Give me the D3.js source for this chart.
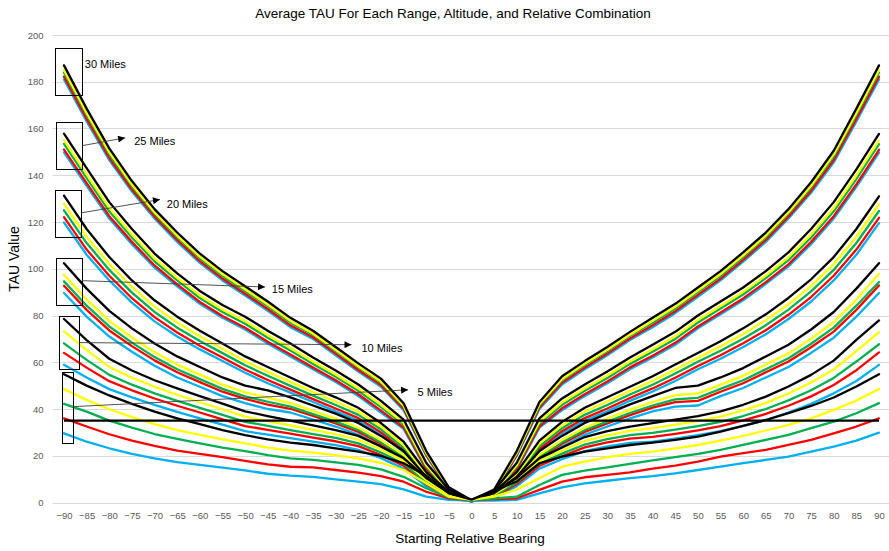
<!DOCTYPE html>
<html><head><meta charset="utf-8">
<script src="https://cdn.jsdelivr.net/npm/d3@7"></script>
<style>
body{margin:0;background:#fff}
svg{display:block}
text{font-family:"Liberation Sans",Arial,sans-serif}
</style>
</head><body>
<svg id="c" width="889" height="551"></svg>
<script>
const bearings = [-90,-85,-80,-75,-70,-65,-60,-55,-50,-45,-40,-35,-30,-25,-20,-15,-10,-5,0,5,10,15,20,25,30,35,40,45,50,55,60,65,70,75,80,85,90];
const yTickValues = [0,20,40,60,80,100,120,140,160,180,200];
const threshold = 35;

// 30 miles
const k30 = [187,168.5,151.5,137.5,125.5,115.5,106.5,99,92.5,86,79,73.5,66.5,59.5,53,42.5,22,6.5,1,5.5,22,43,54,60.5,66.5,73,79,85,92,99,107,115.5,125.5,137,150.5,168.5,187];
const y30 = [185,166.7,149.9,136,124.2,114.2,105.2,97.7,91.2,84.7,77.7,72.3,65.3,58.3,51.8,41.5,21.3,6,0.8,5,21.3,42,52.8,59.3,65.3,71.8,77.7,83.7,90.7,97.7,105.7,114.2,124.2,135.5,148.9,166.7,185];
const g30 = [184,165.8,149,135.3,123.5,113.5,104.5,97,90.5,84,77,71.8,64.8,57.8,51.3,41,21,5.8,0.8,4.8,21,41.5,52.3,58.8,64.8,71.3,77,83,90,97,105,113.5,123.5,134.8,148,165.8,184];
const r30 = [182.2,164.1,147.5,133.9,122.3,112.3,103.3,95.8,89.3,82.8,75.8,70.7,63.7,56.7,50.2,40.1,20.4,5.3,0.6,4.3,20.4,40.6,51.2,57.7,63.7,70.2,75.8,81.8,88.8,95.8,103.8,112.3,122.3,133.4,146.5,164.1,182.2];
const b30 = [181,163,146.5,133,121.5,111.5,102.5,95,88.5,82,75,70,63,56,49.5,39.5,20,5,0.5,4,20,40,50.5,57,63,69.5,75,81,88,95,103,111.5,121.5,132.5,145.5,163,181];
// 25 miles
const k25 = [157.8,143,128.5,117,106.5,98,90.5,84.5,79.5,73.5,68,62,56.5,50.5,43.5,35.5,17,5.5,1,5,17,36,44.5,50.5,56,62,67.5,73,80,86,92,99,107,117,128.5,142.5,157.7];
const y25 = [155,140.4,126,114.7,104.4,96.1,88.6,82.6,77.6,71.6,66.1,60.3,54.8,48.8,41.8,34.1,16,4.8,0.8,4.3,16,34.6,42.8,48.8,54.3,60.3,65.6,71.1,78.1,84.1,90.1,97.1,104.9,114.7,126,139.9,154.9];
const g25 = [153.4,138.9,124.6,113.4,103.2,95,87.5,81.5,76.5,70.5,65,59.3,53.8,47.8,40.8,33.3,15.4,4.4,0.7,3.9,15.4,33.8,41.8,47.8,53.3,59.3,64.5,70,77,83,89,96,103.7,113.4,124.6,138.4,153.3];
const r25 = [151,136.6,122.5,111.5,101.4,93.3,85.8,79.8,74.8,68.8,63.3,57.8,52.3,46.3,39.3,32.1,14.5,3.8,0.6,3.3,14.5,32.6,40.3,46.3,51.8,57.8,62.8,68.3,75.3,81.3,87.3,94.3,101.9,111.5,122.5,136.1,150.9];
const b25 = [149.8,135.5,121.5,110.5,100.5,92.5,85,79,74,68,62.5,57,51.5,45.5,38.5,31.5,14,3.5,0.5,3,14,32,39.5,45.5,51,57,62,67.5,74.5,80.5,86.5,93.5,101,110.5,121.5,135,149.7];
// 20 miles
const k20 = [131.3,117,105,95,86.5,79.5,73.5,68,62.5,58,53.5,49,45,40.5,34,26,13,4.5,1,4.5,13,26.5,34.5,40.5,45,49.5,54,59,64,69,74.5,80.5,87.5,95.5,105,117,131];
const y20 = [127.8,113.7,102,92.2,83.8,77,71.1,65.8,60.4,55.9,51.6,47.2,43.2,38.9,32.5,24.7,12,3.9,0.9,3.9,12,25.2,33,38.9,43.2,47.7,52.1,56.9,61.9,66.8,72.1,78,84.8,92.7,102,113.7,127.6];
const g20 = [125,111,99.5,89.8,81.5,74.8,69.1,63.9,58.7,54.2,49.9,45.7,41.7,37.5,31.3,23.5,11.1,3.4,0.7,3.4,11.1,24,31.8,37.5,41.7,46.2,50.4,55.2,60.2,64.9,70.1,75.8,82.5,90.3,99.5,111,124.7];
const r20 = [122.1,108.2,97,87.4,79.3,72.7,67.1,62,56.9,52.4,48.3,44.2,40.2,36.1,30,22.4,10.2,2.9,0.6,2.9,10.2,22.9,30.5,36.1,40.2,44.7,48.8,53.4,58.4,63,68.1,73.7,80.3,87.9,97,108.2,121.8];
const b20 = [119.8,106,95,85.5,77.5,71,65.5,60.5,55.5,51,47,43,39,35,29,21.5,9.5,2.5,0.5,2.5,9.5,22,29.5,35,39,43.5,47.5,52,57,61.5,66.5,72,78.5,86,95,106,119.5];
// 15 miles
const k15 = [102.4,91.5,82,74.5,68,62.5,58,53.5,50,48,45,41.5,38,34,28.5,22,11,4,1,4,11,22,28.5,34,38,42,45.5,49,50,53.5,57.5,62.5,67.5,74,81.5,91.5,102.4];
const y15 = [97.4,86.8,77.7,70.6,64.3,59,54.7,50.4,47.1,44.9,42.5,39.2,35.9,32,26.7,20.4,9.8,3.2,0.8,3.2,9.8,20.4,26.7,32,35.9,39.7,43,45.9,46.7,50.4,54.2,59,63.8,70.1,77.2,86.8,97.9];
const g15 = [94.6,84.2,75.3,68.4,62.2,57,52.8,48.6,45.4,43.1,41,37.8,34.6,31,25.8,19.6,9.2,2.8,0.7,2.8,9.2,19.6,25.8,31,34.6,38.3,41.5,44.1,44.8,48.6,52.3,57,61.7,67.9,74.8,84.2,94.3];
const r15 = [92.7,82.4,73.6,66.9,60.8,55.7,51.5,47.4,44.3,41.9,40.1,37,33.8,30.2,25.1,19,8.7,2.5,0.6,2.5,8.7,19,25.1,30.2,33.8,37.4,40.6,42.9,43.5,47.4,51,55.7,60.3,66.4,73.1,82.4,92.9];
const b15 = [89.6,79.5,71,64.5,58.5,53.5,49.5,45.5,42.5,40,38.5,35.5,32.5,29,24,18,8,2,0.5,2,8,18,24,29,32.5,36,39,41,41.5,45.5,49,53.5,58,64,70.5,79.5,89.6];
// 10 miles
const k10 = [78.5,69.5,61.5,56.5,52.3,48.8,45.5,42.3,39,37,35,33,31,28.5,24,19,10.5,4,1,4,10.5,19,23.5,28,30.5,32.5,34,35.5,37,39,41.8,45.3,49.6,54.6,60.7,69.6,77.9];
const y10 = [73.2,65.2,58,53.4,49.5,46.1,42.9,39.9,36.7,34.8,33,31.1,29.2,26.9,22.7,17.8,9.6,3.5,0.9,3.5,9.6,17.8,22.2,26.4,28.7,30.6,31.8,33.3,34.8,36.7,39.4,42.6,46.6,51.3,56.9,64.8,72.9];
const g10 = [68.1,61,54.6,50.4,46.7,43.5,40.5,37.5,34.5,32.8,31,29.3,27.6,25.3,21.4,16.6,8.6,2.9,0.7,2.9,8.6,16.6,20.9,24.8,27.1,28.8,29.8,31.2,32.7,34.5,37,40,43.7,48,53.3,60.3,67.7];
const r10 = [64,57.7,51.9,48,44.5,41.4,38.5,35.6,32.7,31.1,29.5,27.8,26.2,24.1,20.3,15.7,7.9,2.5,0.6,2.5,7.9,15.7,19.8,23.6,25.7,27.3,28.1,29.4,30.9,32.7,35.1,37.9,41.4,45.4,50.3,56.6,64.2];
const b10 = [58.9,53.5,48.5,45,41.8,38.8,36,33.3,30.5,29,27.5,26,24.5,22.5,19,14.5,7,2,0.5,2,7,14.5,18.5,22,24,25.5,26,27.3,28.8,30.5,32.8,35.3,38.5,42.2,46.7,52,58.9];
// 5 miles
const k5 = [54.9,50,45.8,42.2,38.9,36,33.5,31,28.8,27,25.6,24.6,23.2,21.8,19.9,16.8,11.5,4,1.2,5,9,16.8,19.6,21.8,23.2,24.6,25.6,26.8,28.2,30.3,32.8,35.3,38.2,41.3,44.9,49.6,54.9];
const y5 = [48.5,43.9,39.9,36.5,33.5,31,28.9,27,25.3,23.5,22.2,21.3,20.3,18.9,17,13.9,8.2,2.5,1.1,2.5,5.5,10.4,15.3,17.5,19.4,20.8,21.8,23.2,24.6,26.5,28.5,30.8,33.2,36,39.6,43.6,48.5];
const g5 = [42.2,38.9,35,32,29.3,27.2,25.3,23.5,22,20.3,18.9,18.2,17.2,16.1,14.2,11,6.1,2.2,1,1.8,2.5,7.5,11.8,13.6,15,16.5,18,19.4,20.8,22.5,24.6,26.8,28.9,31.8,34.6,38.2,42.5];
const r5 = [36,32.5,29.2,26.5,24.2,22.2,20.8,19.4,17.8,16.3,15.3,15,13.9,12.8,11.3,8.9,4.6,1.8,1,1.5,1.8,5.4,8.9,10.8,11.8,12.9,14.5,15.8,17.5,19.6,21.1,22.5,24.6,26.8,29.6,32.5,36];
const b5 = [29.6,26,23.2,20.8,18.9,17.3,16.1,14.9,13.7,12.3,11.5,11,9.9,8.9,7.9,5.6,2.5,1.1,0.8,0.8,1.1,3.9,6.5,8.2,9.3,10.4,11.3,12.5,13.9,15.3,16.8,18.2,19.6,21.8,23.9,26.5,29.9];

// annotations (data units)
const annotLabels = ['30 Miles','25 Miles','20 Miles','15 Miles','10 Miles','5 Miles'];
const annotBoxBearing = [[-92,-86.1],[-91.7,-85.9],[-92,-86.2],[-91.8,-86.1],[-91,-86.6],[-90.4,-88]];
const annotBoxValue = [[194.5,174.5],[162.7,142.4],[133.5,113.4],[104.8,84.9],[80,57.2],[56,25.8]];
const annotArrowFrom = [null,152.7,123.9,94.9,68.4,41];
const annotArrowTo = [null,[-76.5,156],[-68.8,129.6],[-45.6,92.2],[-26.5,67.5],[-14,48.2]];
const annotLabelPos = [[-85.4,187.4],[-74.5,154.8],[-67.3,127.8],[-44.1,91.4],[-24.3,66],[-11.9,47.2]];

const colors = {blue:'#00B0F0', red:'#FF0000', green:'#00B050', yellow:'#FFFF00', black:'#000000'};
const groups = [
  [b30,r30,g30,y30,k30],[b25,r25,g25,y25,k25],[b20,r20,g20,y20,k20],
  [b15,r15,g15,y15,k15],[b10,r10,g10,y10,k10],[b5,r5,g5,y5,k5]
];
const colorOrder = ['blue','red','green','yellow','black'];
const series = [];
groups.forEach(g => g.forEach((vals,i) => series.push({vals, color: colors[colorOrder[i]]})));

const svg = d3.select('#c');
const x = d3.scaleLinear().domain([-90,90]).range([64,879]);
const y = d3.scaleLinear().domain([0,200]).range([502.5,35]);
const plotLeft = 52.5, plotRight = 889;

// gridlines
svg.append('g').selectAll('line').data(yTickValues).join('line')
  .attr('x1',plotLeft).attr('x2',plotRight)
  .attr('y1',d=>Math.round(y(d))+0.5).attr('y2',d=>Math.round(y(d))+0.5)
  .attr('stroke','#D9D9D9').attr('stroke-width',1);

// axes
const yAxis = d3.axisLeft(y).tickValues(yTickValues).tickSize(0).tickPadding(9);
const gy = svg.append('g').attr('transform',`translate(${plotLeft},0)`).call(yAxis);
gy.select('.domain').remove();
gy.selectAll('text').attr('font-size','9.5px').attr('fill','#595959').style('font-family','"Liberation Sans",Arial,sans-serif');

const xAxis = d3.axisBottom(x).tickValues(bearings).tickSize(0).tickPadding(10);
const gx = svg.append('g').attr('transform',`translate(0,${y(0)})`).call(xAxis);
gx.select('.domain').remove();
gx.selectAll('text').attr('font-size','9.5px').attr('fill','#595959').style('font-family','"Liberation Sans",Arial,sans-serif');

// series
const line = d3.line().x((d,i)=>x(bearings[i])).y(d=>y(d));
svg.append('g').selectAll('path').data(series).join('path')
  .attr('d',d=>line(d.vals)).attr('fill','none')
  .attr('stroke',d=>d.color).attr('stroke-width',2.3)
  .attr('stroke-linejoin','round').attr('stroke-linecap','round');

// threshold
svg.append('line').attr('x1',x(-90)).attr('x2',x(90)).attr('y1',y(threshold)).attr('y2',y(threshold))
  .attr('stroke','#000').attr('stroke-width',2.3);

// arrow marker
svg.append('defs').append('marker').attr('id','ah').attr('viewBox','0 0 10 10')
  .attr('refX',10).attr('refY',5).attr('markerWidth',8).attr('markerHeight',7)
  .attr('markerUnits','userSpaceOnUse').attr('orient','auto')
  .append('path').attr('d','M0,0 L10,5 L0,10 Z').attr('fill','#000');

const ann = svg.append('g');
annotLabels.forEach((lab,i)=>{
  const bx = annotBoxBearing[i], bv = annotBoxValue[i];
  ann.append('rect').attr('x',Math.round(x(bx[0]))+0.5).attr('y',Math.round(y(bv[0]))+0.5)
    .attr('width',Math.round(x(bx[1])-x(bx[0]))).attr('height',Math.round(y(bv[1])-y(bv[0])))
    .attr('fill','none').attr('stroke','#000').attr('stroke-width',1);
  if (annotArrowTo[i]) {
    ann.append('line').attr('x1',x(bx[1])).attr('y1',y(annotArrowFrom[i]))
      .attr('x2',x(annotArrowTo[i][0])).attr('y2',y(annotArrowTo[i][1]))
      .attr('stroke','#404040').attr('stroke-width',0.9).attr('marker-end','url(#ah)');
  }
  ann.append('text').attr('x',x(annotLabelPos[i][0])).attr('y',y(annotLabelPos[i][1]))
    .attr('dy','0.35em').attr('font-size','11px').attr('fill','#000').text(lab);
});

// titles
svg.append('text').attr('x',453).attr('y',18).attr('text-anchor','middle')
  .attr('font-size','13.5px').attr('fill','#000').text('Average TAU For Each Range, Altitude, and Relative Combination');
svg.append('text').attr('transform','translate(19,259) rotate(-90)').attr('text-anchor','middle')
  .attr('font-size','14px').attr('fill','#000').text('TAU Value');
svg.append('text').attr('x',470).attr('y',543).attr('text-anchor','middle')
  .attr('font-size','13.5px').attr('fill','#000').text('Starting Relative Bearing');
</script>
</body></html>
